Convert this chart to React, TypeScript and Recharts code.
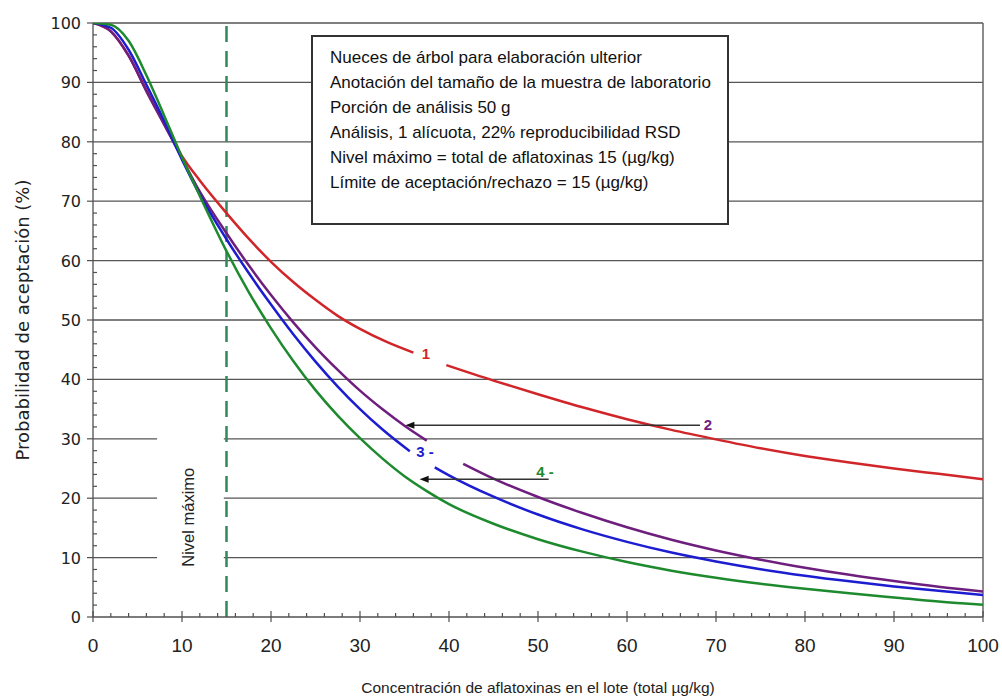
import React from "react";
import { LineChart, Line, XAxis, YAxis, ReferenceLine, ReferenceDot, Label } from "recharts";

// ---- data ----
const redX = [0, 2, 4, 6, 8, 10, 12, 15, 17.5, 20, 22.5, 25, 27.5, 30, 33, 36, 38, 39.7, 45, 50, 55, 60, 65, 70, 75, 80, 85, 90, 95, 100];
const redY = [100, 98.6, 94.5, 88.7, 83.0, 77.6, 73.5, 68.0, 63.7, 59.8, 56.4, 53.4, 50.7, 48.5, 46.3, 44.5, null, 42.4, 39.8, 37.5, 35.3, 33.3, 31.5, 29.9, 28.4, 27.1, 26.0, 25.0, 24.1, 23.2];

const purpleX = [0, 2, 4, 6, 8, 10, 12, 15, 17.5, 20, 22.5, 25, 27.5, 30, 32.5, 35, 37.5, 39.5, 41.6, 45, 50, 55, 60, 65, 70, 75, 80, 85, 90, 95, 100];
const purpleY = [100, 98.6, 94.5, 88.5, 82.9, 77.2, 71.6, 64.6, 59.2, 54.2, 49.6, 45.4, 41.6, 38.1, 35.0, 32.2, 29.7, null, 25.8, 23.3, 20.2, 17.5, 15.1, 13.0, 11.2, 9.65, 8.3, 7.1, 6.05, 5.1, 4.3];

const blueX = [0, 2, 4, 6, 8, 10, 12, 15, 17.5, 20, 22.5, 25, 27.5, 30, 32.5, 35.6, 37, 38.4, 40, 45, 50, 55, 60, 65, 70, 75, 80, 85, 90, 95, 100];
const blueY = [100, 99.2, 95.5, 89.6, 83.5, 77.0, 71.1, 63.6, 57.9, 52.6, 47.6, 43.0, 38.8, 35.0, 31.6, 27.9, null, 25.2, 23.85, 20.25, 17.25, 14.75, 12.65, 10.85, 9.35, 8.05, 6.95, 6.0, 5.15, 4.4, 3.7];

const greenX = [0, 2, 4, 6, 8, 10, 12, 15, 17.5, 20, 22.5, 25, 27.5, 30, 32.5, 35, 37.5, 40, 45, 50, 55, 60, 65, 70, 75, 80, 85, 90, 95, 100];
const greenY = [100, 99.7, 97, 91.2, 84.4, 77.4, 70.9, 61.6, 54.7, 48.6, 43.1, 38.2, 33.9, 30.1, 26.7, 23.7, 21.2, 19.0, 15.7, 13.1, 11.0, 9.25, 7.8, 6.6, 5.6, 4.75, 4.0, 3.3, 2.6, 2.05];

const xTicks = [0, 2, 4, 6, 8, 10, 12, 14, 16, 18, 20, 22, 24, 26, 28, 30, 32, 34, 36, 38, 40, 42, 44, 46, 48, 50, 52, 54, 56, 58, 60, 62, 64, 66, 68, 70, 72, 74, 76, 78, 80, 82, 84, 86, 88, 90, 92, 94, 96, 98, 100];
const yTicks = [0, 2, 4, 6, 8, 10, 12, 14, 16, 18, 20, 22, 24, 26, 28, 30, 32, 34, 36, 38, 40, 42, 44, 46, 48, 50, 52, 54, 56, 58, 60, 62, 64, 66, 68, 70, 72, 74, 76, 78, 80, 82, 84, 86, 88, 90, 92, 94, 96, 98, 100];
const fullGridY = [40, 50, 60, 70, 80, 90, 100];
const splitGridY = [10, 20, 30];
const gridGapStart = 7.2;
const gridGapEnd = 14.7;
const maxLevel = 15;

const legendLines = [
  "Nueces de árbol para elaboración ulterior",
  "Anotación del tamaño de la muestra de laboratorio",
  "Porción de análisis 50 g",
  "Análisis, 1 alícuota, 22% reproducibilidad RSD",
  "Nivel máximo =  total de aflatoxinas 15  (µg/kg)",
  "Límite de aceptación/rechazo = 15 (µg/kg)",
];

// arrows: [xFrom, xTo, y]
const arrow2 = [68.2, 35.1, 32.3];
const arrow4 = [51.2, 36.7, 23.2];

const curveLabels = [
  { x: 37.4, y: 44.4, text: "1", color: "#d0262a" },
  { x: 69.1, y: 32.3, text: "2", color: "#6e1f7e" },
  { x: 37.3, y: 27.8, text: "3 -", color: "#1c1cd0" },
  { x: 50.8, y: 24.5, text: "4 -", color: "#1e8a2e" },
];

const toData = (xs: number[], ys: (number | null)[]) => xs.map((x, i) => ({ x, y: ys[i] }));
const redData = toData(redX, redY);
const purpleData = toData(purpleX, purpleY);
const blueData = toData(blueX, blueY);
const greenData = toData(greenX, greenY);

const FONT = "'Liberation Sans', Arial, sans-serif";
const AX = "#505050";

const XTick = (props: any) => {
  const { x, y, payload } = props;
  const v = payload.value;
  const major = v % 10 === 0;
  return (
    <g>
      <line x1={x} x2={x} y1={y - (major ? 6 : 4)} y2={y + (major ? 5 : 0)} stroke={AX} strokeWidth={1.2} />
      {major && (
        <text x={x} y={y + 35} textAnchor="middle" fontSize={19} fontFamily={FONT} fill="#222">
          {v}
        </text>
      )}
    </g>
  );
};

const YTick = (props: any) => {
  const { x, y, payload } = props;
  const v = payload.value;
  const major = v % 10 === 0;
  return (
    <g>
      {major ? (
        <line x1={x - 6} x2={x} y1={y} y2={y} stroke={AX} strokeWidth={1.2} />
      ) : (
        <line x1={x} x2={x + 4} y1={y} y2={y} stroke={AX} strokeWidth={1.2} />
      )}
      {major && (
        <text x={x - 12} y={y + 6} textAnchor="end" fontSize={16} fontFamily="'DejaVu Sans', sans-serif" fill="#222">
          {v}
        </text>
      )}
    </g>
  );
};

const ArrowShape = (props: any) => {
  const { x1, y1, x2, y2 } = props;
  if (x1 == null) return null;
  const left = Math.min(x1, x2);
  const right = Math.max(x1, x2);
  return (
    <g>
      <line x1={right} x2={left + 6} y1={y1} y2={y2} stroke="#333" strokeWidth={1.5} />
      <polygon points={`${left},${y1} ${left + 9},${y1 - 3.5} ${left + 9},${y1 + 3.5}`} fill="#111" />
    </g>
  );
};

export default function App() {
  return (
    <div style={{ position: "absolute", left: 0, top: 0, width: 1002, height: 698, background: "#fff", fontFamily: FONT }}>
      <LineChart width={1002} height={698} margin={{ top: 23, right: 19, bottom: 0, left: 0 }}>
        <XAxis
          dataKey="x"
          type="number"
          domain={[0, 100]}
          ticks={xTicks}
          interval={0}
          tickSize={0}
          tickMargin={0}
          tickLine={false}
          tick={<XTick />}
          axisLine={{ stroke: AX, strokeWidth: 1.3 }}
          height={81}
          allowDataOverflow
        >
          <Label
            content={(p: any) => {
              const vb = p.viewBox || {};
              return (
                <text x={vb.x + vb.width / 2} y={vb.y + 76} textAnchor="middle" fontSize={15.5} fontFamily={FONT} fill="#222">
                  Concentración de aflatoxinas en el lote (total µg/kg)
                </text>
              );
            }}
          />
        </XAxis>
        <YAxis
          type="number"
          domain={[0, 100]}
          ticks={yTicks}
          interval={0}
          tickSize={0}
          tickMargin={0}
          tickLine={false}
          tick={<YTick />}
          axisLine={{ stroke: AX, strokeWidth: 1.3 }}
          width={93}
          allowDataOverflow
        >
          <Label
            content={(p: any) => {
              const vb = p.viewBox || {};
              const cx = 22;
              const cy = vb.y + vb.height / 2;
              return (
                <text
                  x={cx}
                  y={cy}
                  transform={`rotate(-90 ${cx} ${cy})`}
                  textAnchor="middle"
                  dominantBaseline="central"
                  fontSize={18}
                  fontFamily="'DejaVu Sans', sans-serif"
                  fill="#222"
                >
                  Probabilidad de aceptación (%)
                </text>
              );
            }}
          />
        </YAxis>

        {fullGridY.map((v) => (
          <ReferenceLine key={"g" + v} y={v} stroke="#555" strokeWidth={1.3} />
        ))}
        {splitGridY.map((v) => (
          <ReferenceLine key={"sa" + v} segment={[{ x: 0, y: v }, { x: gridGapStart, y: v }]} stroke="#555" strokeWidth={1.3} />
        ))}
        {splitGridY.map((v) => (
          <ReferenceLine key={"sb" + v} segment={[{ x: gridGapEnd, y: v }, { x: 100, y: v }]} stroke="#555" strokeWidth={1.3} />
        ))}
        <ReferenceLine x={100} stroke="#666" strokeWidth={1.5} />
        <ReferenceLine x={maxLevel} stroke="#2e8a5a" strokeWidth={2.5} strokeDasharray="16 9" />

        <Line data={redData} dataKey="y" type="monotone" stroke="#d0262a" strokeWidth={2.5} dot={false} isAnimationActive={false} connectNulls={false} />
        <Line data={purpleData} dataKey="y" type="monotone" stroke="#6e1f7e" strokeWidth={2.5} dot={false} isAnimationActive={false} connectNulls={false} />
        <Line data={blueData} dataKey="y" type="monotone" stroke="#1c1cd0" strokeWidth={2.5} dot={false} isAnimationActive={false} connectNulls={false} />
        <Line data={greenData} dataKey="y" type="monotone" stroke="#1e8a2e" strokeWidth={2.5} dot={false} isAnimationActive={false} connectNulls={false} />

        <ReferenceLine segment={[{ x: arrow2[0], y: arrow2[2] }, { x: arrow2[1], y: arrow2[2] }]} shape={<ArrowShape />} />
        <ReferenceLine segment={[{ x: arrow4[0], y: arrow4[2] }, { x: arrow4[1], y: arrow4[2] }]} shape={<ArrowShape />} />

        {curveLabels.map((c) => (
          <ReferenceDot
            key={c.text}
            x={c.x}
            y={c.y}
            r={0}
            stroke="none"
            fill="none"
            label={{ value: c.text, position: "center", fill: c.color, fontSize: 15, fontWeight: "bold", fontFamily: FONT }}
          />
        ))}
        <ReferenceDot
          x={10.7}
          y={16.8}
          r={0}
          stroke="none"
          fill="none"
          label={{ value: "Nivel máximo", position: "center", angle: -90, fill: "#222", fontSize: 16.5, fontFamily: FONT }}
        />
      </LineChart>

      <div
        style={{
          position: "absolute",
          left: 311,
          top: 35,
          width: 418,
          height: 190,
          boxSizing: "border-box",
          border: "2px solid #333",
          background: "#fff",
          padding: "8px 0 0 17px",
          fontSize: 17,
          lineHeight: "25px",
          color: "#111",
          fontFamily: FONT,
          whiteSpace: "nowrap",
        }}
      >
        {legendLines.map((t, i) => (
          <div key={i}>{t}</div>
        ))}
      </div>
    </div>
  );
}
